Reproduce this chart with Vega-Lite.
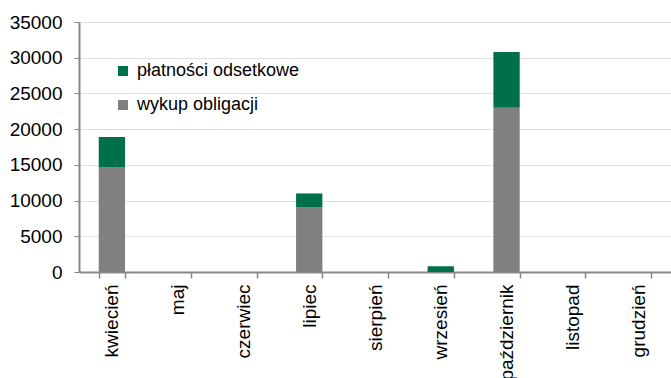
{
  "$schema": "https://vega.github.io/schema/vega-lite/v6.json",
  "autosize": "none",
  "width": 592,
  "height": 250,
  "padding": {"left": 79, "top": 22, "right": 0, "bottom": 106},
  "background": "white",
  "config": {"view": {"stroke": null}, "font": "Liberation Sans"},
  "data": {"values": [
    {"miesiac": "kwiecień", "seria": "wykup obligacji", "wartosc": 14650},
    {"miesiac": "kwiecień", "seria": "płatności odsetkowe", "wartosc": 4250},
    {"miesiac": "maj", "seria": "wykup obligacji", "wartosc": 0},
    {"miesiac": "maj", "seria": "płatności odsetkowe", "wartosc": 0},
    {"miesiac": "czerwiec", "seria": "wykup obligacji", "wartosc": 0},
    {"miesiac": "czerwiec", "seria": "płatności odsetkowe", "wartosc": 0},
    {"miesiac": "lipiec", "seria": "wykup obligacji", "wartosc": 9050},
    {"miesiac": "lipiec", "seria": "płatności odsetkowe", "wartosc": 1950},
    {"miesiac": "sierpień", "seria": "wykup obligacji", "wartosc": 0},
    {"miesiac": "sierpień", "seria": "płatności odsetkowe", "wartosc": 0},
    {"miesiac": "wrzesień", "seria": "wykup obligacji", "wartosc": 0},
    {"miesiac": "wrzesień", "seria": "płatności odsetkowe", "wartosc": 800},
    {"miesiac": "październik", "seria": "wykup obligacji", "wartosc": 23000},
    {"miesiac": "październik", "seria": "płatności odsetkowe", "wartosc": 7800},
    {"miesiac": "listopad", "seria": "wykup obligacji", "wartosc": 0},
    {"miesiac": "listopad", "seria": "płatności odsetkowe", "wartosc": 0},
    {"miesiac": "grudzień", "seria": "wykup obligacji", "wartosc": 0},
    {"miesiac": "grudzień", "seria": "płatności odsetkowe", "wartosc": 0}
  ]},
  "mark": {"type": "bar"},
  "encoding": {
    "x": {
      "field": "miesiac", "type": "nominal", "sort": null,
      "scale": {"paddingInner": 0.6, "paddingOuter": 0.3},
      "axis": {
        "title": null, "labelAngle": -90, "labelFontSize": 19, "labelColor": "#000",
        "tickSize": 6, "tickColor": "#888", "tickWidth": 1.5, "tickBand": "extent",
        "domainColor": "#888", "domainWidth": 2, "labelPadding": 6, "grid": false,
        "labelLimit": 0
      }
    },
    "y": {
      "field": "wartosc", "type": "quantitative", "stack": "zero",
      "scale": {"domain": [0, 35000], "nice": false},
      "axis": {
        "title": null, "values": [0, 5000, 10000, 15000, 20000, 25000, 30000, 35000],
        "format": "d", "labelFontSize": 19, "labelColor": "#000",
        "tickSize": 5, "tickColor": "#888", "labelPadding": 12,
        "domainColor": "#888", "domainWidth": 2,
        "gridColor": "#c4c4c4", "gridDash": [1, 1], "gridWidth": 1
      }
    },
    "color": {
      "field": "seria", "type": "nominal",
      "scale": {"domain": ["płatności odsetkowe", "wykup obligacji"], "range": ["#00704A", "#808080"]},
      "legend": {
        "orient": "none", "legendX": 35, "legendY": 40, "title": null,
        "labelFontSize": 18, "labelColor": "#000", "labelLimit": 0, "symbolType": "square",
        "symbolSize": 100, "symbolStrokeWidth": 0, "rowPadding": 16, "labelOffset": 5
      }
    },
    "order": {"field": "seria", "sort": "descending"}
  }
}
